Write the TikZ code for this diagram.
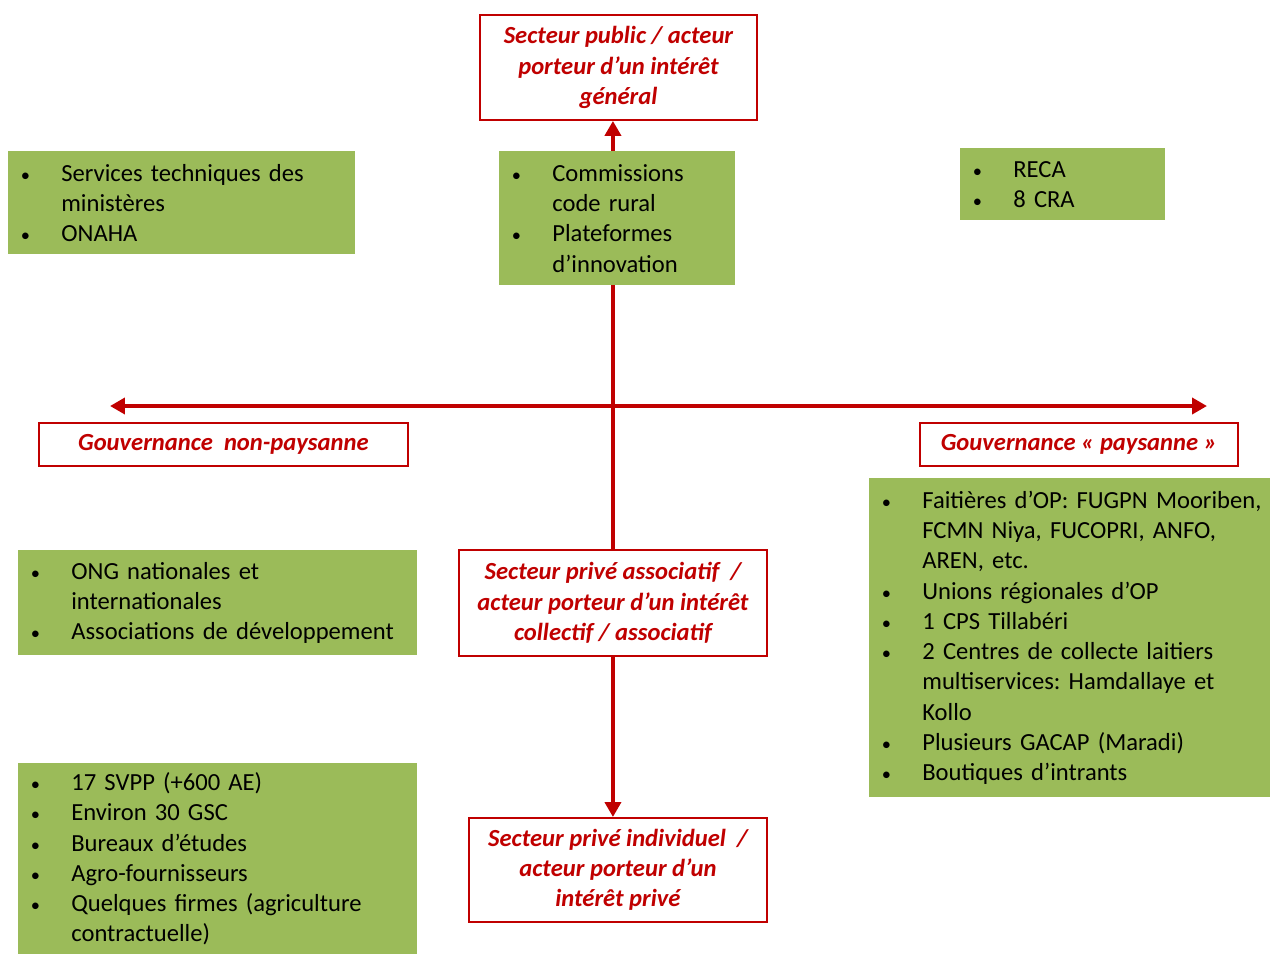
\documentclass[tikz,border=0pt]{standalone}
\usepackage{fontspec}
\setmainfont{Carlito}
\usetikzlibrary{arrows.meta}
\definecolor{leaf}{RGB}{155,187,89}
\definecolor{deepred}{RGB}{192,0,0}
\newcommand\itm[1]{\makebox[0.78cm][l]{\hspace{-0.03cm}\scalebox{0.75}{\textbullet}}#1}
\newcommand\cont[1]{\hspace*{0.78cm}#1}
\frenchspacing
\begin{document}
\begin{tikzpicture}[x=0.02cm,y=-0.02cm,
  listbox/.style={fill=leaf, draw=none, anchor=north west, inner xsep=0.28cm,
    inner ysep=0pt, align=left, font=\fontsize{14}{17.2}\selectfont},
  sectorbox/.style={draw=deepred, line width=1.1pt, fill=white, anchor=north west,
    align=center, text=deepred, inner sep=0pt,
    font=\fontsize{14}{17.2}\selectfont\bfseries\itshape},
  axis/.style={draw=deepred, line width=2.5pt,
    >={Triangle[length=0.3cm,width=0.32cm]}}]
\useasboundingbox (0,0) rectangle (1270,954);

% sector boxes
\node[sectorbox, minimum width=5.54cm, minimum height=2.10cm] (pub) at (479,14)
  {Secteur public / acteur\\ porteur d’un intérêt\\ général};
\node[sectorbox, minimum width=6.16cm, minimum height=2.12cm] (assoc) at (458,549)
  {Secteur privé associatif~ /\\ acteur porteur d’un intérêt\\ collectif / associatif};
\node[sectorbox, minimum width=5.96cm, minimum height=2.08cm] (indiv) at (468,817)
  {Secteur privé individuel~ /\\ acteur porteur d’un\\ intérêt privé};
\node[sectorbox, minimum width=7.38cm, minimum height=0.86cm] (gnp) at (38,422)
  {Gouvernance~ non-paysanne};
\node[sectorbox, minimum width=6.36cm, minimum height=0.86cm] (gp) at (919,422)
  {Gouvernance « paysanne »};

% axes
\coordinate (west) at (110,406);
\coordinate (east) at (1207,406);
\draw[axis, ->] (assoc.north) -- (assoc.north |- pub.south);
\draw[axis, ->] (assoc.south) -- (assoc.south |- indiv.north);
\draw[axis, <->] (west) -- (east);

% actor lists
\node[listbox, text width=6.38cm, minimum height=2.06cm] (svc) at (8,151)
  {\itm{Services techniques des}\\ \cont{ministères}\\ \itm{ONAHA}};
\node[listbox, text width=4.16cm, minimum height=2.68cm] (comm) at (499,151)
  {\itm{Commissions}\\ \cont{code rural}\\ \itm{Plateformes}\\ \cont{d’innovation}};
\node[listbox, text width=3.54cm, minimum height=1.44cm] (reca) at (960,148)
  {\itm{RECA}\\ \itm{8 CRA}};
\node[listbox, text width=7.8cm, minimum height=6.38cm] (op) at (869,478)
  {\itm{Faitières d’OP: FUGPN Mooriben,}\\ \cont{FCMN Niya, FUCOPRI, ANFO,}\\
   \cont{AREN, etc.}\\ \itm{Unions régionales d’OP}\\ \itm{1 CPS Tillabéri}\\
   \itm{2 Centres de collecte laitiers}\\ \cont{multiservices: Hamdallaye et}\\
   \cont{Kollo}\\ \itm{Plusieurs GACAP (Maradi)}\\ \itm{Boutiques d’intrants}};
\node[listbox, text width=7.42cm, minimum height=2.10cm] (ong) at (18,550)
  {\itm{ONG nationales et}\\ \cont{internationales}\\ \itm{Associations de développement}};
\node[listbox, text width=7.42cm, minimum height=3.82cm] (priv) at (18,763)
  {\itm{17 SVPP (+600 AE)}\\ \itm{Environ 30 GSC}\\ \itm{Bureaux d’études}\\
   \itm{Agro-fournisseurs}\\ \itm{Quelques firmes (agriculture}\\ \cont{contractuelle)}};
\end{tikzpicture}
\end{document}
